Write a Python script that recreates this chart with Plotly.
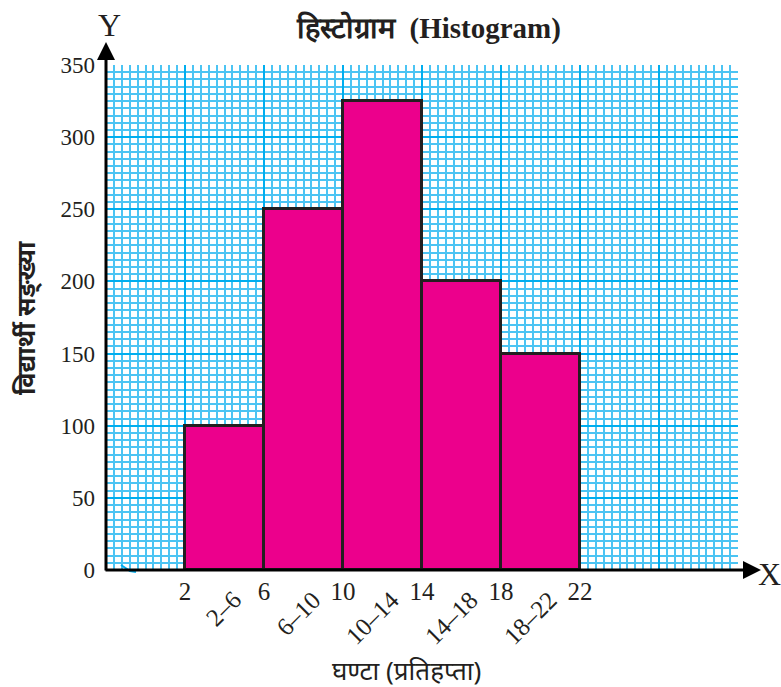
import plotly.graph_objects as go

# ---- data ----
class_labels = ["2–6", "6–10", "10–14", "14–18", "18–22"]
class_lower = [2, 6, 10, 14, 18]
class_width = 4
students = [100, 250, 325, 200, 150]
x_tick_vals = [-2, 2, 6, 10, 14, 18, 22, 26, 30]
x_tick_text = ["", "2", "6", "10", "14", "18", "22", "", ""]
y_tick_vals = [0, 50, 100, 150, 200, 250, 300, 350]

title_text = "<b>हिस्टोग्राम  (Histogram)</b>"
y_title = "<b>विद्यार्थी सङ्ख्या</b>"
x_title = "घण्टा (प्रतिहप्ता)"

mids = [lo + class_width / 2 for lo in class_lower]

W, H = 781, 687
L, R, T, B = 106, 43, 65, 117
serif = "Liberation Serif, Times New Roman, serif"
dark = "#231F20"
major_c = "#00AEEF"
minor_c = "#4CC4F3"

fig = go.Figure()
fig.add_trace(go.Bar(
    x=mids, y=students, width=[class_width] * len(mids),
    marker=dict(color="#EC008C", line=dict(color=dark, width=3)),
    hoverinfo="skip", showlegend=False,
))

fig.update_layout(
    width=W, height=H,
    margin=dict(l=L, r=R, t=T, b=B, pad=0),
    paper_bgcolor="white", plot_bgcolor="white",
    bargap=0,
    xaxis=dict(
        range=[-2, 30], tickvals=x_tick_vals, ticktext=x_tick_text,
        showgrid=True, gridcolor=major_c, gridwidth=2,
        zeroline=False, showline=False, ticks="",
        tickfont=dict(family=serif, size=25, color=dark),
        ticklabelstandoff=4,
        minor=dict(tick0=-2, dtick=0.4, showgrid=True, gridcolor=minor_c, gridwidth=1.5),
        fixedrange=True,
    ),
    yaxis=dict(
        range=[0, 350], tickvals=y_tick_vals,
        showgrid=True, gridcolor=major_c, gridwidth=2,
        zeroline=False, showline=False, ticks="",
        tickfont=dict(family=serif, size=23, color=dark),
        ticklabelstandoff=10,
        minor=dict(tick0=0, dtick=5, showgrid=True, gridcolor=minor_c, gridwidth=1.5),
        fixedrange=True,
    ),
    font=dict(family="Noto Sans, DejaVu Sans, sans-serif", color=dark),
)

pw = W - L - R
ph = H - T - B

def px_x(p):
    return (p - L) / pw

def px_y(p):
    return (H - B - p) / ph

def label(px, py, text, font, angle=0):
    fig.add_annotation(x=px_x(px), y=px_y(py), xref="paper", yref="paper",
                       xanchor="center", yanchor="middle", text=text,
                       showarrow=False, textangle=angle, font=font)

# axes with arrows
fig.add_annotation(x=px_x(761), y=0, xref="paper", yref="paper",
                   ax=-(761 - L + 2), ay=0, text="", showarrow=True,
                   arrowhead=2, arrowsize=1.2, arrowwidth=3, arrowcolor="black",
                   standoff=0, startstandoff=0)
fig.add_annotation(x=0, y=px_y(42), xref="paper", yref="paper",
                   ax=0, ay=(H - B - 42 + 2), text="", showarrow=True,
                   arrowhead=2, arrowsize=1.2, arrowwidth=3, arrowcolor="black",
                   standoff=0, startstandoff=0)

# axis letters
label(109, 25, "Y", dict(family=serif, size=32, color=dark))
label(769, 574, "X", dict(family=serif, size=32, color=dark))

# axis break mark
fig.add_shape(type="path", xref="paper", yref="paper",
              path=f"M {px_x(121)} {px_y(565)} L {px_x(130)} {px_y(571)} L {px_x(136)} {px_y(572)}",
              line=dict(color=major_c, width=2))

# rotated class labels
for m, lab in zip(mids, class_labels):
    fig.add_annotation(x=m, y=0, xref="x", yref="y", text=lab, showarrow=False,
                       textangle=-45, xanchor="right", yanchor="top",
                       xshift=25, yshift=-13,
                       font=dict(family=serif, size=25, color=dark))

# titles
label(429, 28, title_text, dict(family=serif, size=29, color=dark))
label(25, 318, y_title, dict(size=25, color=dark), angle=-90)
label(406, 670, x_title, dict(size=26, color=dark))

fig.write_html("out.html", config={"displayModeBar": False},
               post_script="document.body.style.margin='0';")
